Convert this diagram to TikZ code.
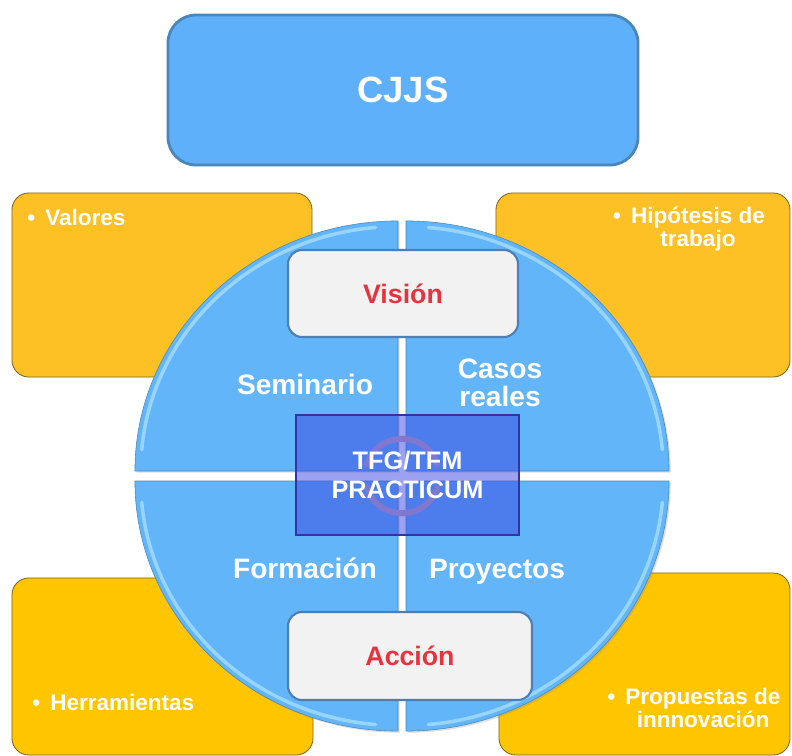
\documentclass[tikz,border=0pt]{standalone}
\usepackage{fontspec}
\setmainfont{Liberation Sans}
\usetikzlibrary{shadows}

\definecolor{skyblue}{HTML}{5EB0FA}
\definecolor{skyedge}{HTML}{4A86B9}
\definecolor{quadblue}{HTML}{62B5F9}
\definecolor{rimblue}{HTML}{A6DDFF}
\definecolor{amber}{HTML}{FDC125}
\definecolor{amberlow}{HTML}{FFC600}
\definecolor{amberedge}{HTML}{7A6522}
\definecolor{paleface}{HTML}{F2F2F2}
\definecolor{paleedge}{HTML}{4C80B4}
\definecolor{coreblue}{RGB}{58,69,226}
\definecolor{coreedge}{HTML}{3533A3}
\definecolor{ringgray}{RGB}{200,170,192}
\definecolor{redtext}{HTML}{E5343F}

\tikzset{
    bigbox/.style={draw=skyedge, line width=2pt, fill=skyblue, rounded corners=20pt, text=white, font=\fontsize{26}{28}\selectfont\bfseries},
    orangebox/.style={draw=amberedge, line width=0.6pt, rounded corners=12pt},
    note/.style={text=white, inner sep=0pt, font=\fontsize{16}{16.5}\selectfont\bfseries, align=center},
    quad/.style={fill=quadblue, draw=quadblue!75!black, line width=0.4pt, drop shadow={opacity=0.25, shadow xshift=1.2pt, shadow yshift=-1.2pt}},
    rim/.style={draw=rimblue, line width=2.5pt, line cap=round, opacity=0.8},
    tag/.style={text=white, inner sep=0pt, font=\fontsize{20}{20}\selectfont\bfseries, align=center},
    whitebox/.style={draw=paleedge, line width=1.5pt, fill=paleface, rounded corners=10pt, text=redtext, font=\fontsize{19}{20}\selectfont\bfseries},
    corebox/.style={draw=coreedge, line width=1.5pt, fill=coreblue, fill opacity=0.5, text opacity=1, text=white, font=\fontsize{18}{20}\selectfont\bfseries, align=center}
}
\newcommand{\hang}{\makebox[0pt][r]{\textbullet\hspace{0.45em}}}

\begin{document}
\begin{tikzpicture}[x=0.025cm, y=-0.025cm]
    \useasboundingbox (0,0) rectangle (792,756);

    \node[orangebox, fill=amber, minimum width=7.5cm, minimum height=4.6cm] (tl) at (162,285) {};
    \node[orangebox, fill=amber, minimum width=7.35cm, minimum height=4.6cm] (tr) at (643,285) {};
    \node[orangebox, fill=amberlow, minimum width=7.525cm, minimum height=4.425cm] (bl) at (162.5,666.5) {};
    \node[orangebox, fill=amberlow, minimum width=7.275cm, minimum height=4.55cm] (br) at (644.5,664) {};

    \node[note, anchor=west] (valores) at (27,217) {\textbullet\hspace{0.45em}Valores};
    \node[note] (hipotesis) at (698,229) {\hang Hipótesis de\\trabajo};
    \node[note, anchor=west] (herramientas) at (32,702) {\textbullet\hspace{0.45em}Herramientas};
    \node[note] (propuestas) at (703,708) {\hang Propuestas de\\innnovación};

    \node[bigbox, minimum width=11.75cm, minimum height=3.75cm] (cjjs) at (403,90) {CJJS};

    \foreach \sx/\sy/\a in {1/-1/0, -1/-1/90, -1/1/180, 1/1/270} {
        \fill[quad] ({402+4*\sx},{476+5*\sy}) -- ++(\a:6.575cm and 6.25cm)
            arc[start angle=\a, delta angle=90, x radius=6.575cm, y radius=6.25cm] -- cycle;
        \draw[rim] ({402+4*\sx},{476+5*\sy}) ++(\a+5:6.43cm and 6.11cm)
            arc[start angle=\a+5, delta angle=80, x radius=6.43cm, y radius=6.11cm];
    }

    \draw[ringgray, line width=4.2pt] (402,476) ++(15:0.93cm) arc[start angle=15, end angle=165, radius=0.93cm];
    \draw[ringgray, line width=4.2pt] (402,476) ++(195:0.93cm) arc[start angle=195, end angle=345, radius=0.93cm];

    \node[corebox, minimum width=5.575cm, minimum height=3cm] (core) at (407.5,475) {TFG/TFM\\PRACTICUM};

    \node[tag] (seminario) at (305,384) {Seminario};
    \node[tag] (casos) at (500,383) {Casos\\reales};
    \node[tag] (formacion) at (305,568) {Formación};
    \node[tag] (proyectos) at (497,572) {Proyectos};

    \node[whitebox, minimum width=5.75cm, minimum height=2.175cm] (vision) at (403,293.5) {Visión};
    \node[whitebox, minimum width=6.1cm, minimum height=2.2cm] (accion) at (410,656) {Acción};
\end{tikzpicture}
\end{document}
